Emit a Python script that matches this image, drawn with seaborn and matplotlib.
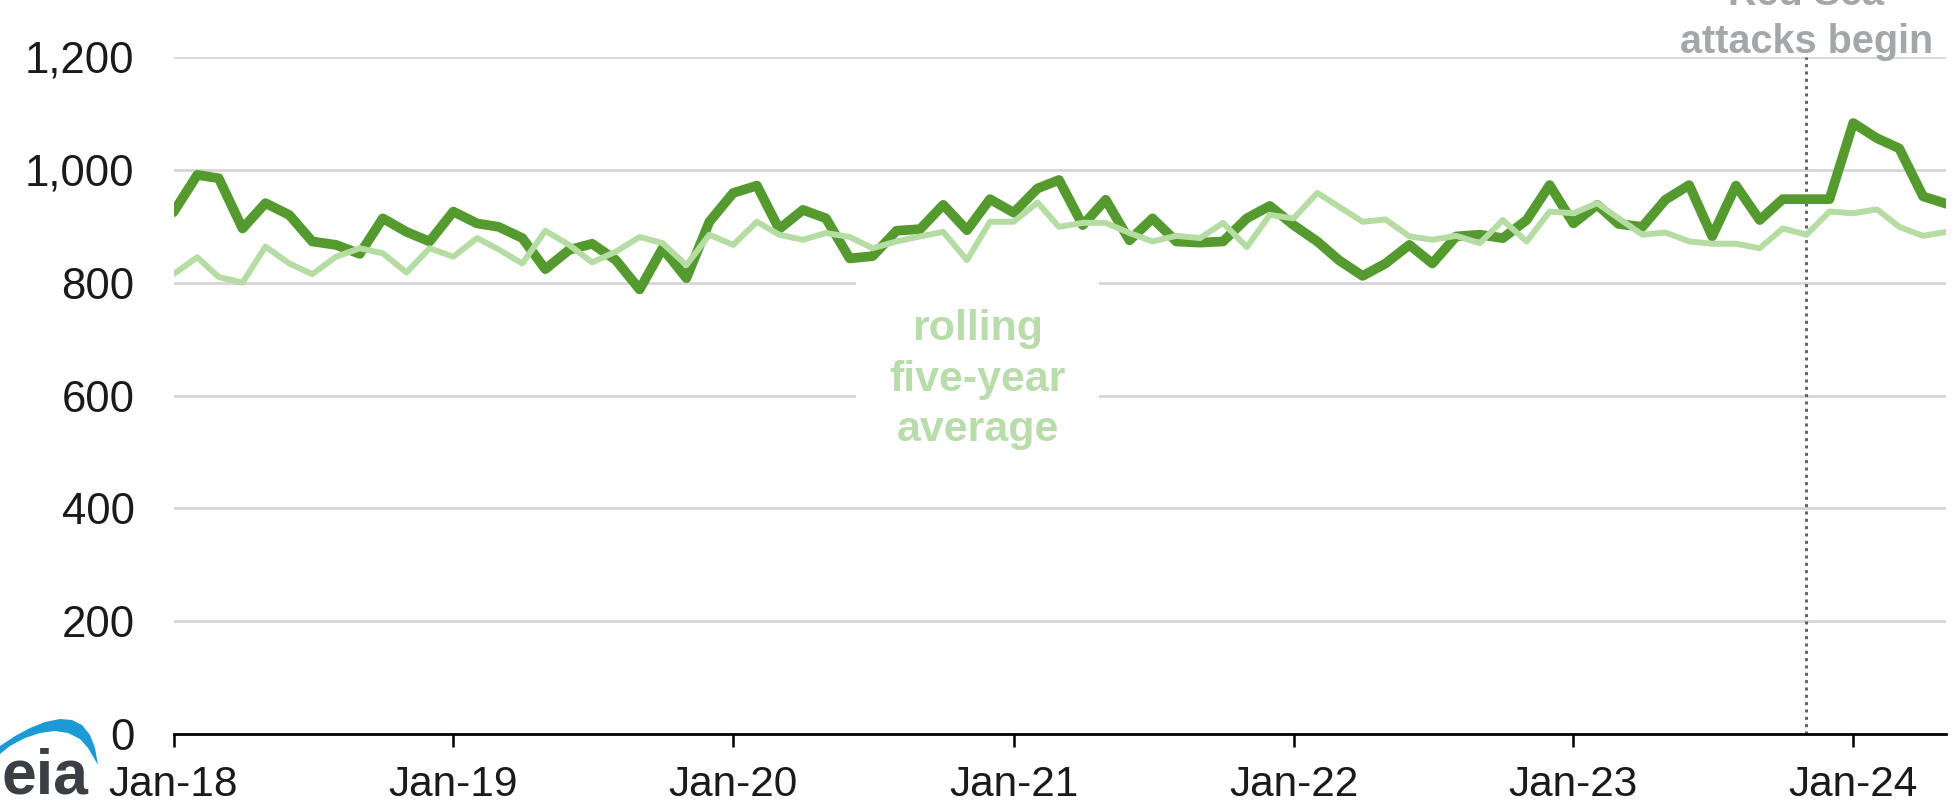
import numpy as np
import pandas as pd
import matplotlib
matplotlib.use("Agg")
import matplotlib.pyplot as plt
from matplotlib.patches import Polygon
import seaborn as sns

# ---------------- data ----------------
months = pd.date_range("2018-01-01", "2024-05-01", freq="MS")

monthly = [
    925, 991, 985, 896, 941, 920, 873, 867, 851, 914, 890, 873,   # 2018
    926, 905, 899, 879, 824, 858, 869, 840, 788, 861, 808, 908,   # 2019
    959, 972, 895, 929, 914, 843, 847, 892, 895, 938, 893, 948,   # 2020
    924, 967, 982, 902, 947, 875, 914, 873, 871, 873, 914, 936,   # 2021
    902, 873, 840, 812, 834, 867, 834, 882, 885, 879, 911, 973,   # 2022
    905, 938, 904, 899, 947, 973, 882, 972, 911, 948, 948, 948,   # 2023
    1083, 1056, 1038, 953, 940,                                    # 2024
]

five_year_avg = [
    815, 845, 810, 800, 864, 834, 815, 846, 861, 852, 818, 861,   # 2018
    846, 879, 859, 834, 892, 867, 836, 855, 881, 870, 831, 885,   # 2019
    867, 908, 885, 876, 888, 881, 861, 873, 882, 890, 840, 908,   # 2020
    908, 942, 899, 906, 906, 888, 873, 883, 879, 906, 863, 920,   # 2021
    914, 959, 935, 908, 912, 882, 876, 883, 870, 911, 873, 926,   # 2022
    923, 941, 914, 885, 889, 873, 869, 869, 861, 896, 885, 926,   # 2023
    923, 930, 899, 883, 890,                                       # 2024
]

y_ticks = [0, 200, 400, 600, 800, 1000, 1200]
y_tick_labels = ["0", "200", "400", "600", "800", "1,000", "1,200"]
x_tick_dates = pd.date_range("2018-01-01", "2024-01-01", freq="YS")
x_tick_labels = ["Jan-18", "Jan-19", "Jan-20", "Jan-21", "Jan-22", "Jan-23", "Jan-24"]
event_date = pd.Timestamp("2023-11-01")
event_label_top = "Red Sea"
event_label_bottom = "attacks begin"
avg_label = "rolling\nfive-year\naverage"

# ---------------- style ----------------
DARK = "#549a2f"
LIGHT = "#b5dca2"
LIGHT_TEXT = "#b9dcab"
GRID = "#d6d6d6"
GRAY_TEXT = "#a4a7aa"

sns.set_theme(style="white")
plt.rcParams["font.family"] = ["Liberation Sans", "DejaVu Sans"]

W, H = 1960, 807
fig = plt.figure(figsize=(W / 100, H / 100), dpi=100)
left, right, top, bottom = 173.5, 1946, 57, 734
ax = fig.add_axes([left / W, 1 - bottom / H, (right - left) / W, (bottom - top) / H])

df = pd.DataFrame({"month": months, "monthly": monthly, "avg": five_year_avg})

sns.lineplot(data=df, x="month", y="monthly", ax=ax, color=DARK, linewidth=7.0, zorder=3)
sns.lineplot(data=df, x="month", y="avg", ax=ax, color=LIGHT, linewidth=4.3, zorder=4)

ax.set_xlim(months[0], months[-1])
ax.set_ylim(0, 1200)
ax.set_yticks(y_ticks)
ax.set_yticklabels(y_tick_labels)
ax.set_xticks(x_tick_dates)
ax.set_xticklabels(x_tick_labels)
ax.set_xlabel("")
ax.set_ylabel("")

ax.set_axisbelow(True)
ax.grid(axis="y", color=GRID, linewidth=2.0)
ax.grid(axis="x", visible=False)
for s in ["left", "right", "top"]:
    ax.spines[s].set_visible(False)
ax.spines["bottom"].set_color("black")
ax.spines["bottom"].set_linewidth(2.0)
ax.spines["bottom"].set_zorder(5)

ax.tick_params(axis="x", direction="out", length=9.5, width=1.8, color="black",
               labelsize=30.5, pad=12.5, labelcolor="#1a1a1a", bottom=True)
ax.tick_params(axis="y", length=0, pad=28, labelsize=31.5, labelcolor="#1a1a1a")

# event marker
ax.axvline(event_date, color="#666666", linestyle=(0, (1, 1.4)), linewidth=2.2, zorder=2)
ex = left + (event_date - months[0]).days / (months[-1] - months[0]).days * (right - left)
fig.text(ex / W, 1 - 53 / H, event_label_bottom, ha="center", va="baseline",
         fontsize=28.5, fontweight="bold", color=GRAY_TEXT)
fig.text(ex / W, 1 - 5 / H, event_label_top, ha="center", va="baseline",
         fontsize=28.5, fontweight="bold", color=GRAY_TEXT)

# average label
ax.text(pd.Timestamp("2020-11-15"), 628, avg_label, ha="center", va="center",
        multialignment="center", fontsize=31, fontweight="bold", color=LIGHT_TEXT,
        linespacing=1.33, zorder=6,
        bbox=dict(facecolor="white", edgecolor="none", pad=24))

# eia logo
fig.text(1 / W, 1 - 793 / H, "eia", ha="left", va="baseline", fontsize=45,
         fontweight="bold", color="#3a3f44")
outer = [(0, 746), (15, 736), (30, 728), (45, 722), (60, 719), (72, 720),
         (82, 725), (90, 735), (95, 748), (98, 765)]
inner = [(98, 765), (88, 748), (80, 739), (68, 733), (55, 731), (40, 733),
         (25, 738), (10, 746), (0, 754)]
pts = [(x / W, 1 - y / H) for x, y in outer + inner]
fig.add_artist(Polygon(pts, closed=True, transform=fig.transFigure,
                       facecolor="#1b9ad6", edgecolor="none"))

fig.savefig("out.png", dpi=100, facecolor="white")
